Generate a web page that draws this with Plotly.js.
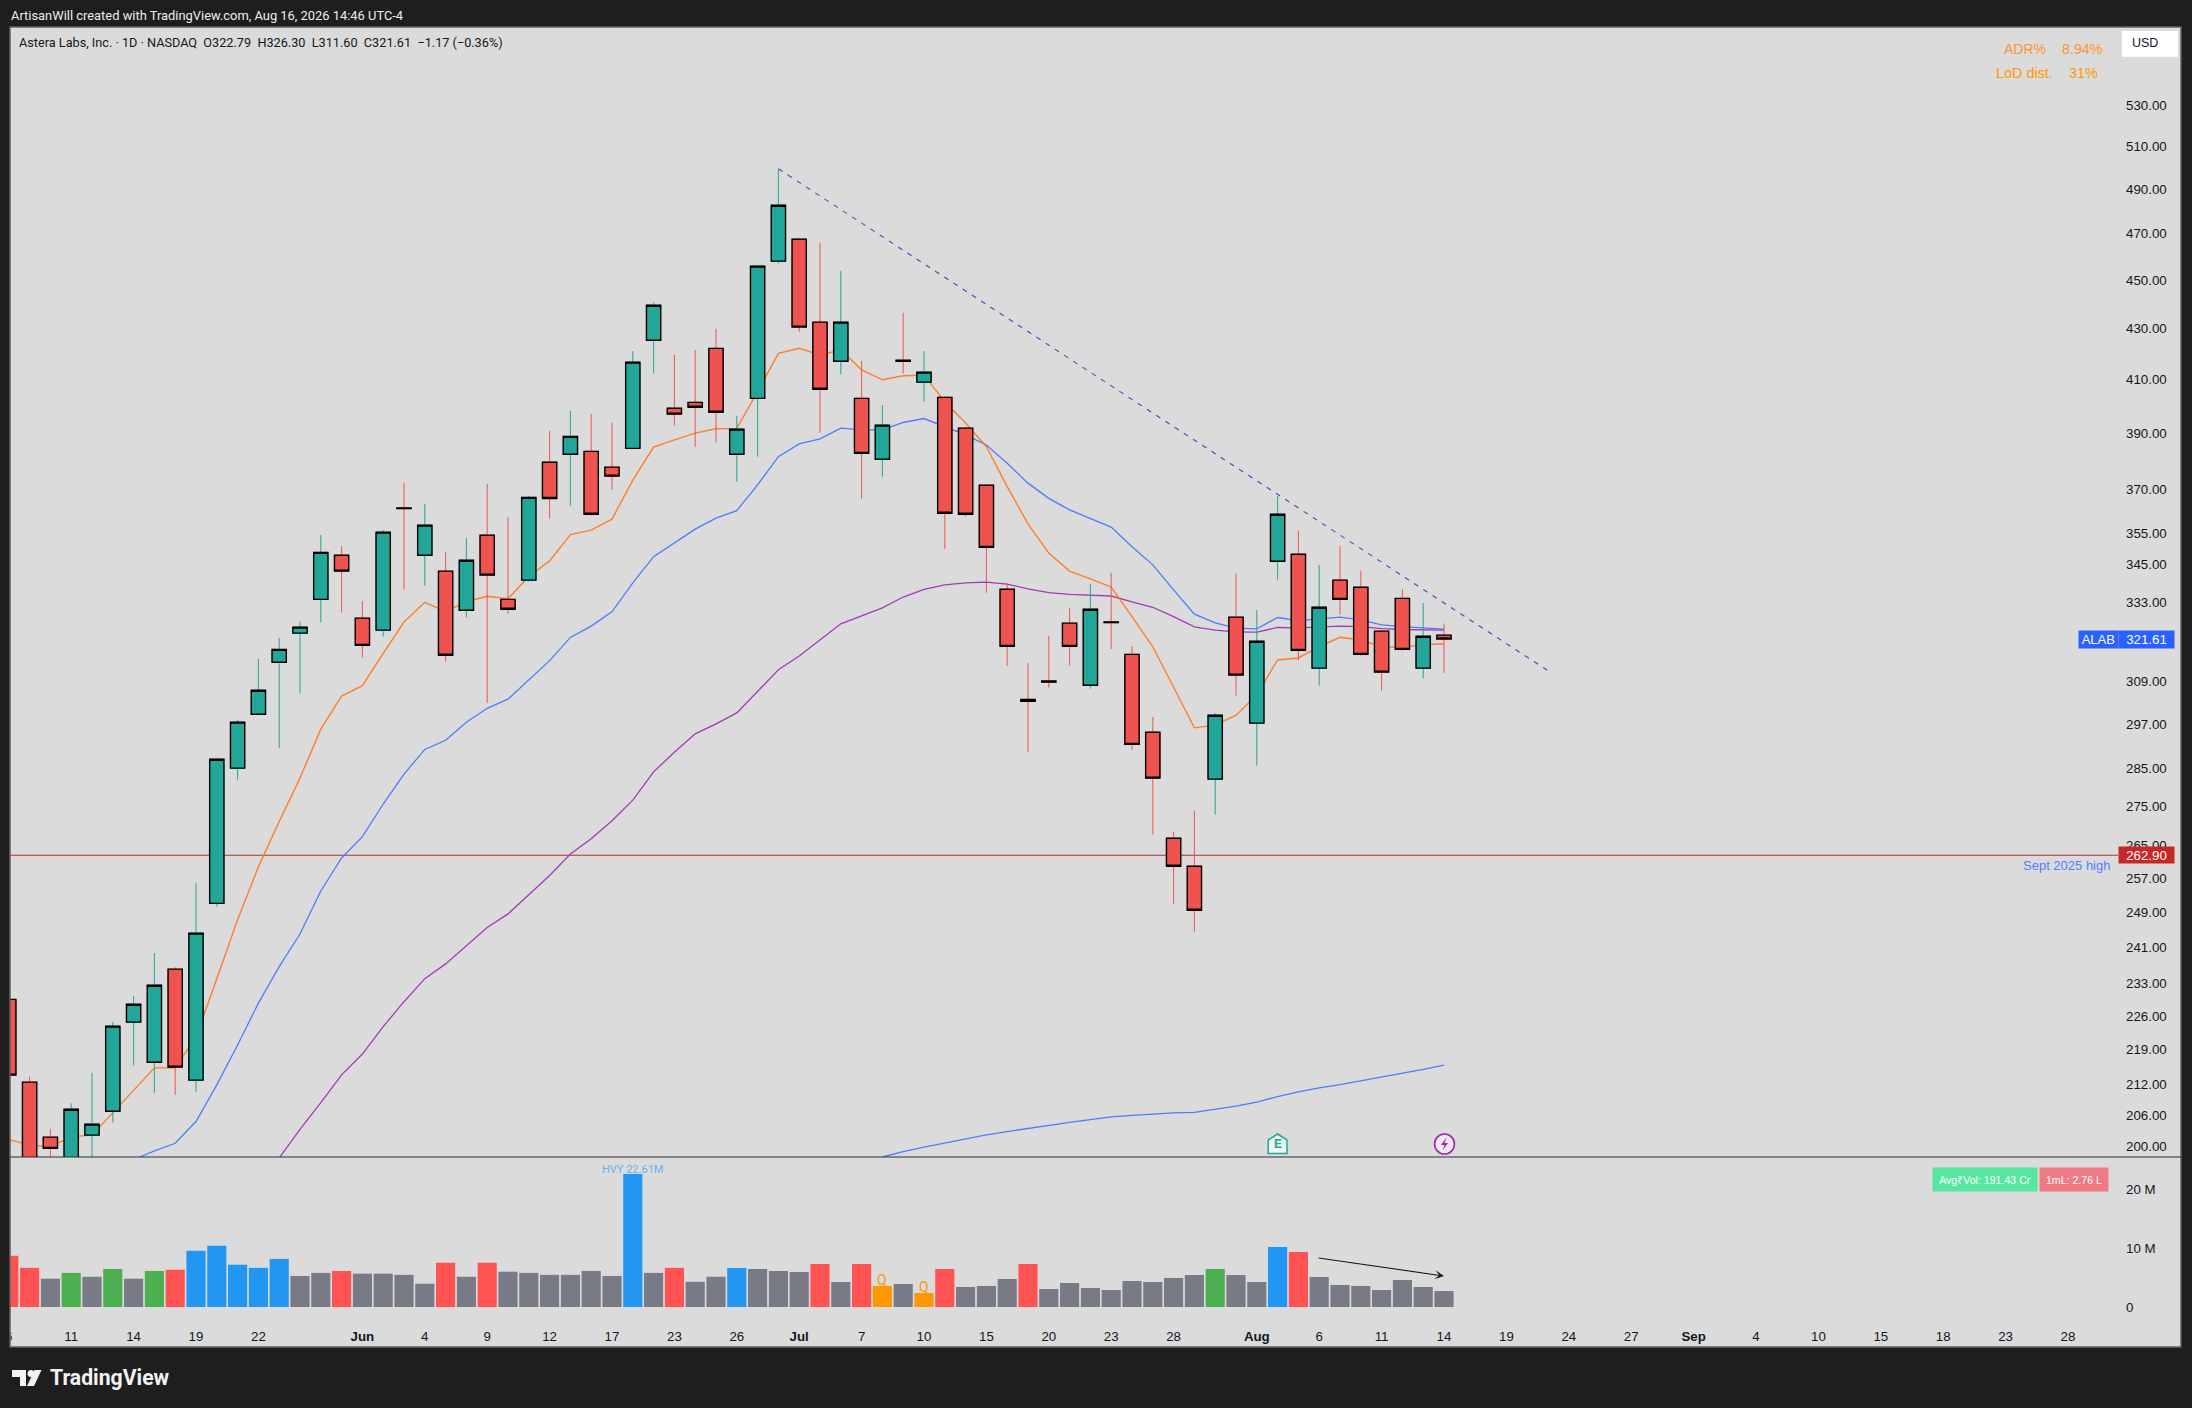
<!DOCTYPE html>
<html><head><meta charset="utf-8">
<script src="https://cdn.plot.ly/plotly-3.0.1.min.js"></script>
<style>html,body{margin:0;padding:0;background:#1e1e1e}#c{width:2192px;height:1408px}</style>
</head><body><div id="c"></div>
<script>
const open_ = [229.51,212.40,201.74,196.57,202.12,206.70,224.68,216.41,236.11,212.80,251.11,284.99,299.76,314.71,323.39,333.77,347.84,327.97,324.30,363.60,347.84,342.72,330.41,354.45,333.77,339.85,379.52,382.33,383.38,377.76,384.47,425.44,399.19,401.39,422.21,382.33,402.90,458.11,467.63,432.71,417.16,402.90,380.57,417.50,409.06,403.28,391.83,371.44,336.95,303.93,309.20,326.44,308.01,326.80,317.04,294.75,266.90,260.00,282.08,328.27,297.26,345.92,348.16,312.96,339.85,337.57,323.99,334.09,312.96,322.79];
const high_ = [229.51,213.52,203.32,208.23,214.27,224.74,230.24,239.69,236.55,255.90,287.72,298.17,315.67,321.95,326.84,354.56,350.87,333.24,356.23,372.25,364.94,348.89,353.55,371.90,360.58,367.68,390.83,398.19,397.09,393.78,421.13,440.79,419.59,421.52,430.00,396.35,456.54,499.48,468.21,466.00,454.00,417.28,400.40,436.47,421.13,403.78,392.30,371.72,338.86,314.50,322.60,331.11,338.64,342.18,319.51,299.00,268.49,273.81,300.04,341.86,330.50,367.68,355.90,344.74,350.87,342.82,324.24,337.07,332.63,326.30];
const low_ = [213.80,193.00,197.12,194.75,197.12,204.52,215.73,210.32,209.91,210.52,250.33,281.97,299.76,290.48,305.56,326.62,329.67,316.05,322.36,336.84,338.12,314.88,328.15,302.98,329.37,339.41,360.02,364.37,361.02,369.90,384.47,412.38,392.77,385.05,386.53,372.71,381.49,457.09,428.91,390.21,412.06,366.74,374.44,412.38,401.61,349.97,360.69,335.88,313.72,289.39,307.31,313.72,307.02,318.60,289.92,267.81,251.02,244.57,272.87,305.00,285.68,340.04,315.17,307.89,329.06,316.63,306.43,318.09,309.93,311.60];
const close_ = [213.80,194.75,199.63,207.08,204.22,223.84,228.46,232.59,215.41,244.20,287.38,297.53,306.55,318.50,325.22,348.79,342.72,319.72,355.46,363.40,357.80,316.75,346.24,341.44,330.71,367.23,366.85,388.80,361.49,374.60,416.78,439.58,396.98,399.55,397.71,391.46,455.99,482.72,430.69,406.37,432.71,382.68,392.93,417.10,412.92,361.83,361.49,350.43,319.42,303.37,308.90,319.42,330.71,326.60,291.42,282.34,260.00,249.50,299.48,310.92,320.94,361.49,318.20,331.32,333.77,317.04,311.80,318.50,322.44,321.61];
const volumeM = [8.7,6.66,4.81,5.8,5.14,6.46,4.81,6.13,6.33,9.56,10.42,7.19,6.66,8.18,5.28,5.8,6.13,5.67,5.67,5.47,3.96,7.52,5.14,7.52,6.0,5.8,5.47,5.47,6.13,5.28,22.61,5.8,6.66,4.29,5.14,6.63,6.46,6.12,5.95,7.31,4.25,7.31,3.57,3.91,2.38,6.46,3.4,3.57,4.76,7.31,3.06,4.08,3.23,2.89,4.42,4.25,4.93,5.44,6.46,5.44,4.25,10.2,9.35,5.1,3.74,3.57,2.89,4.59,3.4,2.72];
const volumeKind = ['r','r','g','n','g','n','g','n','r','b','b','b','b','b','g','g','r','g','g','g','g','r','g','r','g','g','g','g','g','g','b','g','r','g','g','b','g','g','g','r','g','r','o','g','o','r','g','g','g','r','g','g','g','g','g','g','g','g','n','g','g','b','r','g','g','g','g','g','g','g'];
const maOrange = [201.28,200.26,199.94,201.85,202.12,206.38,210.86,215.27,215.27,221.60,233.98,247.26,259.84,271.10,282.34,295.59,304.89,307.89,317.33,326.76,332.85,329.98,333.03,334.73,333.97,341.00,346.01,354.66,356.13,359.81,373.20,384.94,387.52,390.00,391.59,391.73,405.44,420.25,422.21,419.59,421.52,413.81,409.95,411.49,411.76,401.61,393.67,385.05,370.95,358.24,348.57,342.72,340.26,337.61,328.45,319.30,307.43,295.95,296.70,299.48,305.20,315.38,315.96,319.30,322.13,321.31,319.30,319.11,319.91,320.21];
const maBlue = [null,null,null,null,null,null,197.50,199.18,200.59,204.72,211.86,219.92,228.73,236.68,244.00,254.04,262.01,267.30,275.58,283.40,290.03,292.53,297.50,301.42,304.02,309.55,315.17,322.10,325.52,329.89,338.98,347.39,351.97,356.46,360.15,362.70,371.55,381.49,386.05,387.89,391.83,391.20,391.20,393.89,395.36,392.42,389.37,385.68,379.17,372.15,366.88,362.93,360.15,357.16,350.64,344.74,336.75,329.19,326.53,324.91,324.70,328.15,327.23,327.75,328.27,327.45,325.92,325.40,324.91,324.61];
const maPurple = [null,null,null,null,null,null,null,null,null,null,null,null,null,197.85,203.21,208.38,213.87,218.07,223.74,229.02,234.02,237.27,241.41,245.51,248.64,253.08,257.76,262.97,266.77,271.28,276.59,284.01,289.29,294.29,297.06,300.12,306.35,312.47,316.54,321.34,326.23,328.67,331.11,334.51,336.95,338.32,338.96,339.19,338.55,337.07,335.88,335.37,335.05,334.83,333.03,331.32,328.45,325.31,324.30,323.78,323.69,325.11,325.00,325.22,325.52,325.40,324.79,324.49,324.40,324.30];
const maLongBars = [42,43,44,45,46,47,48,49,50,51,52,53,54,55,56,57,58,59,60,61,62,63,64,65,66,67,68,69];
const maLong = [198.03,199.04,199.88,200.65,201.41,202.18,202.81,203.42,204.01,204.56,205.10,205.61,205.90,206.19,206.38,206.47,207.05,207.71,208.48,209.56,210.46,211.26,211.90,212.66,213.36,214.10,214.96,215.81];
const trendBars = [37,74];
const trendPrices = [499.48,312.20];
const levelLine = 262.66;
const levelLabel = '262.90';
const lastPrice = 321.61;
const priceTicks = [200,206,212,219,226,233,241,249,257,265,275,285,297,309,333,345,355,370,390,410,430,450,470,490,510,530];
const volumeTicks = [0,10,20];
const volumeTickLabels = ['0','10 M','20 M'];
const dateTickBars = [0,3,6,9,12,17,20,23,26,29,32,35,38,41,44,47,50,53,56,60,63,66,69,72,75,78,81,84,87,90,93,96,99];
const dateTickLabels = ['6','11','14','19','22','<b>Jun</b>','4','9','12','17','23','26','<b>Jul</b>','7','10','15','20','23','28','<b>Aug</b>','6','11','14','19','24','27','<b>Sep</b>','4','10','15','18','23','28'];

const W=2192,H=1408;
const px=v=>v/W, py=v=>1-v/H;
const bars=open_.map((_,i)=>i);
const KIND={r:'#FF5252',g:'#787B86',n:'#4CAF50',b:'#2196F3',o:'#FF9800'};
const TEAL='#22A698',RED='#EF5350',INK='#131722';
const SANS='"Liberation Sans",Arial,sans-serif';
const ROBO='Roboto,"Liberation Sans",sans-serif';
const logRange=[Math.log10(198.03),Math.log10(570.4)];

const line=(x,y,color,width,dash)=>({type:'scatter',mode:'lines',x,y,xaxis:'x',yaxis:'y',hoverinfo:'skip',showlegend:false,connectgaps:false,line:{color,width,dash:dash||'solid'}});
const traces=[
 line([-2,103],[levelLine,levelLine],'#B5302F',1.1),
 line(maLongBars,maLong,'#4D7CFE',1.3),
 line(bars,maPurple,'#A23BB8',1.3),
 line(bars,maBlue,'#4D7CFE',1.3),
 line(bars,maOrange,'#FF7F27',1.4),
 line(trendBars,trendPrices,'#673AB7',1.1,'5px,6px'),
 {type:'candlestick',x:bars,open:open_,high:high_,low:low_,close:close_,xaxis:'x',yaxis:'y3',hoverinfo:'skip',showlegend:false,whiskerwidth:0,
  increasing:{line:{color:TEAL,width:1},fillcolor:'rgba(0,0,0,0)'},decreasing:{line:{color:RED,width:1},fillcolor:'rgba(0,0,0,0)'}},
 {type:'candlestick',x:bars,open:open_,close:close_,high:open_.map((o,i)=>Math.max(o,close_[i])),low:open_.map((o,i)=>Math.min(o,close_[i])),xaxis:'x',yaxis:'y3',hoverinfo:'skip',showlegend:false,whiskerwidth:0,
  increasing:{line:{color:'#000',width:1.4},fillcolor:TEAL},decreasing:{line:{color:'#000',width:1.4},fillcolor:RED}},
 {type:'bar',x:bars,y:volumeM,xaxis:'x',yaxis:'y2',hoverinfo:'skip',showlegend:false,marker:{color:volumeKind.map(k=>KIND[k]),line:{width:0}}}
];

const note=(x,y,text,color,size,anchor,family)=>({xref:'paper',yref:'paper',x:px(x),y:py(y),text,showarrow:false,xanchor:anchor||'left',yanchor:'middle',font:{family:family||ROBO,size,color},borderpad:0});
const tag=(x0,x1,y0,y1,text,bg,size,color)=>({xref:'paper',yref:'paper',x:px((x0+x1)/2),y:py((y0+y1)/2),xanchor:'center',yanchor:'middle',width:x1-x0,height:y1-y0,align:'center',valign:'middle',text,showarrow:false,bgcolor:bg,borderpad:0,font:{family:SANS,size,color:color||'#fff'}});
const poly=pts=>'M'+pts.map(p=>px(p[0])+' '+py(p[1])).join(' L')+' Z';
const pshape=(pts,fill,lineColor,w,layer)=>({type:'path',xref:'paper',yref:'paper',path:poly(pts),fillcolor:fill,layer:layer||'above',line:{color:lineColor||fill,width:w||0}});
const rect=(x0,y0,x1,y1,fill,lineColor,w,layer)=>({type:'rect',xref:'paper',yref:'paper',x0:px(x0),x1:px(x1),y0:py(y0),y1:py(y1),fillcolor:fill,layer:layer||'above',line:{color:lineColor||'rgba(0,0,0,0)',width:w||0}});

const shapes=[
 rect(10,27,2181,1347,'#DBDBDB',null,0,'below'),
 rect(0,0,10,1408,'#1E1E1E'),
 rect(10,27,2181,1347,'rgba(0,0,0,0)','#626262',1.5),
 {type:'line',xref:'paper',yref:'paper',x0:px(10),x1:px(2181),y0:py(1157),y1:py(1157),layer:'above',line:{color:'#2A2E39',width:1.2}},
 rect(2122,31,2178,56.7,'#FFFFFF'),
 pshape([[1277.6,1134],[1287,1140],[1287,1153.5],[1268.2,1153.5],[1268.2,1140]],'#E9F6F3','#22A698',1.5),
 {type:'circle',xref:'paper',yref:'paper',x0:px(1434.6),x1:px(1454.4),y0:py(1134),y1:py(1154),fillcolor:'#F4EAF6',layer:'above',line:{color:'#9C27B0',width:1.6}},
 pshape([[1446.5,1137.5],[1441,1145],[1444.5,1145],[1442.5,1150.5],[1448,1143],[1444.5,1143]],'#9C27B0'),
 pshape([[12,1370],[26,1370],[26,1386],[20,1386],[20,1377],[12,1377]],'#F2F2F2'),
 {type:'circle',xref:'paper',yref:'paper',x0:px(27.5),x1:px(34.5),y0:py(1370),y1:py(1377),fillcolor:'#F2F2F2',layer:'above',line:{width:0}},
 pshape([[34.5,1370],[41.5,1370],[34,1386],[27,1386]],'#F2F2F2')
];

const annotations=[
 note(10,15.7,'ArtisanWill created with TradingView.com, Aug 16, 2026 14:46 UTC-4','#EDEDED',12.9),
 note(18,42.7,'Astera Labs, Inc. · 1D · NASDAQ  O322.79  H326.30  L311.60  C321.61  −1.17 (−0.36%)',INK,12.7),
 note(49,1377.7,'<b>TradingView</b>','#F2F2F2',21.2),
 note(2003,48.7,'ADR%','#FF9433',14,'left',SANS),
 note(2061,48.7,'8.94%','#FF9433',14.3,'left',SANS),
 note(1995,72.8,'LoD dist.','#FF9800',14.4,'left',SANS),
 note(2068,72.8,'31%','#FF9800',14.3,'left',SANS),
 note(2131,43.5,'USD','#131722',12.5,'left',SANS),
 tag(2079,2117.5,630.8,648.2,'ALAB','#2962FF',13),
 {...tag(2119,2174,630.8,648.2,String(lastPrice),'#2962FF',13.3),yref:'y',y:Math.log10(lastPrice)},
 {...tag(2119,2174,847,863.4,levelLabel,'#C62828',13.3),yref:'y',y:Math.log10(levelLine)},
 note(2111,865,'Sept 2025 high','#4F7FFF',13,'right',SANS),
 tag(1933,2037,1167.7,1190.7,'Avg₹Vol: 191.43 Cr','#57E6A0',10.6),
 tag(2040,2108,1167.7,1190.7,'1mL: 2.76 L','#EE7A84',10.6),
 note(1277.6,1144,'<b>E</b>','#22A698',12,'center',SANS),
 {xref:'x',yref:'y2',x:30,y:volumeM[30],text:'HVY 22.61M',showarrow:false,yanchor:'bottom',xanchor:'center',yshift:-4,font:{family:ROBO,size:11,color:'#64B5F6'}},
 {xref:'x',yref:'y2',x:42,y:volumeM[42],text:'Q',showarrow:false,yanchor:'bottom',xanchor:'center',yshift:-4,font:{family:ROBO,size:14,color:'#FF9800'}},
 {xref:'x',yref:'y2',x:44,y:volumeM[44],text:'Q',showarrow:false,yanchor:'bottom',xanchor:'center',yshift:-4,font:{family:ROBO,size:14,color:'#FF9800'}},
 {xref:'x',yref:'y2',axref:'x',ayref:'y2',x:69,y:5.27,ax:62.9,ay:8.38,text:'',showarrow:true,arrowhead:3,arrowsize:1.4,arrowwidth:1.1,arrowcolor:INK,standoff:0,startstandoff:0}
];

const layout={
 width:W,height:H,margin:{l:0,r:0,t:0,b:0,pad:0},paper_bgcolor:'#1E1E1E',plot_bgcolor:'rgba(0,0,0,0)',showlegend:false,bargap:0.08,boxmode:'overlay',boxgap:0.02,hovermode:false,dragmode:false,
 xaxis:{domain:[0,2118/W],range:[-0.423,101.404],anchor:'y2',type:'linear',rangeslider:{visible:false},showgrid:false,zeroline:false,showline:false,ticks:'',tickmode:'array',tickvals:dateTickBars,ticktext:dateTickLabels,tickangle:0,ticklabelstandoff:9,automargin:false,tickfont:{family:SANS,size:13.3,color:INK}},
 yaxis:{domain:[py(1157),py(27)],type:'log',range:logRange,anchor:'x',side:'right',showgrid:false,zeroline:false,showline:false,ticks:'',tickmode:'array',tickvals:priceTicks,ticktext:priceTicks.map(v=>v.toFixed(2)),ticklabelstandoff:7,automargin:false,tickfont:{family:SANS,size:13.3,color:INK}},
 yaxis3:{type:'log',range:logRange,overlaying:'y',anchor:'x',side:'right',visible:false,showgrid:false,zeroline:false},
 yaxis2:{domain:[py(1318),py(1157)],range:[-1.87,25.51],anchor:'x',side:'right',showgrid:false,zeroline:false,showline:false,ticks:'',tickmode:'array',tickvals:volumeTicks,ticktext:volumeTickLabels,ticklabelstandoff:7,automargin:false,tickfont:{family:SANS,size:13.3,color:INK}},
 shapes,annotations
};
Plotly.newPlot('c',traces,layout,{displayModeBar:false,staticPlot:true});
</script></body></html>
